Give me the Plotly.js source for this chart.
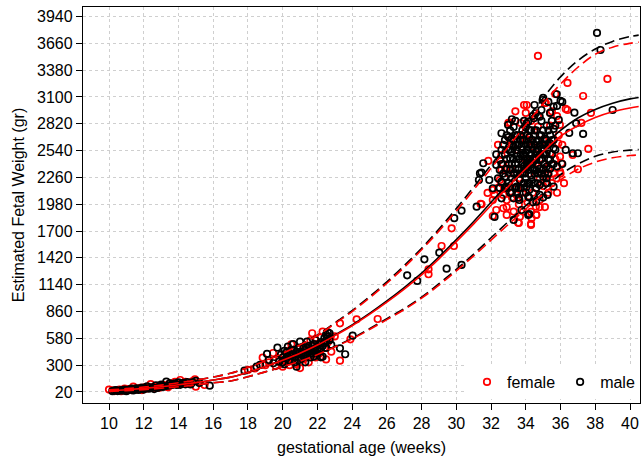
<!DOCTYPE html>
<html>
<head>
<meta charset="utf-8">
<script src="https://cdn.plot.ly/plotly-3.0.1.min.js"></script>
<style>html,body{margin:0;padding:0;background:#fff;}#chart{width:643px;height:459px;}</style>
</head>
<body>
<div id="chart"></div>
<script>
// ---- Data ----
const xTickVals = [10,12,14,16,18,20,22,24,26,28,30,32,34,36,38,40];
const yTickVals = [20,300,580,860,1140,1420,1700,1980,2260,2540,2820,3100,3380,3660,3940];

const curveWeeks = [10,11,12,13,14,15,16,17,18,19,20,21,22,23,24,25,26,27,28,29,30,31,32,33,34,35,36,37,38,39,40,40.5];
const maleMean   = [33,44,58,75,95,118,145,175,225,285,355,430,515,615,720,840,970,1110,1260,1430,1610,1800,2000,2200,2390,2580,2750,2880,2970,3035,3080,3095];
const maleUpper  = [42,55,72,92,116,143,176,215,275,345,425,515,615,740,870,1015,1170,1340,1520,1720,1935,2160,2390,2620,2860,3090,3310,3480,3600,3680,3730,3745];
const maleLower  = [25,34,45,59,75,94,116,135,180,230,285,345,415,495,580,680,785,890,1010,1150,1300,1460,1630,1800,1965,2130,2290,2400,2480,2525,2545,2550];
const femaleMean  = [33,44,58,75,95,118,145,175,225,285,352,425,510,608,712,830,958,1095,1243,1410,1590,1775,1970,2165,2350,2530,2690,2800,2885,2945,2985,3000];
const femaleUpper = [42,55,72,92,116,143,176,215,275,345,423,512,610,733,860,1002,1155,1322,1505,1700,1910,2130,2355,2580,2810,3030,3235,3410,3545,3620,3660,3672];
const femaleLower = [25,34,45,59,75,94,116,135,180,230,283,342,410,490,574,672,775,880,1000,1135,1285,1440,1605,1770,1930,2085,2235,2345,2420,2465,2488,2495];

// female points [week, EFW]
const femaleEarly = [[10.0,45],[10.3,30],[10.5,38],[10.7,28],[10.8,42],[10.9,55],[11.0,35],[11.1,50],[11.3,40],[11.4,75],[11.5,55],[11.6,45],[11.8,62],[11.9,40],[12.0,50],[12.1,70],[12.2,58],[12.4,103],[12.5,72],[12.6,60],[12.8,85],[12.9,65],[13.0,75],[13.1,95],[13.3,80],[13.5,110],[13.6,92],[13.8,125],[14.0,100],[14.1,145],[14.3,118],[14.6,105],[14.8,130],[14.95,153],[15.0,75],[15.2,120],[15.5,93],
 [10.4,33],[10.6,45],[11.2,42],[11.7,52],[12.3,65],[12.7,70],[13.2,90],[13.4,70],[13.7,100],[14.2,110],[14.4,125],[10.2,38],[11.0,45],[12.0,62]];
const femaleMid = [[18.0,250],[18.4,265],[18.85,378],[19.0,300],[19.2,330],[19.45,427],[19.6,290],[19.8,360],[19.9,320],[20.0,284],[20.1,400],[20.2,330],[20.3,450],[20.3,360],[20.4,300],[20.5,518],[20.5,340],[20.6,380],[20.7,420],[20.8,310],[20.9,470],[21.0,270],[21.0,390],[21.1,430],[21.2,360],[21.2,470],[21.3,500],[21.4,400],[21.5,330],[21.5,460],[21.6,560],[21.7,633],[21.7,510],[21.8,450],[21.9,380],[22.0,520],[22.0,400],[22.1,420],[22.2,590],[22.3,650],[22.4,480],[22.5,360],[22.6,540],[22.76,591],[22.8,441],[23.0,600],[23.3,347],[23.3,737],[23.9,570],[24.26,779],[25.47,782],[28.4,1301],[28.4,1249],[29.15,1544],[29.86,1544],[29.73,1729],[31.45,1980],[31.8,2098]];
const femaleLate = [[36.4,3246],[35.15,3037],[34.05,3016],[36.3,2975],[35.4,2933],[33.1,2832],[33.7,2828],[35.96,2808],[34.7,2790],[37.0,2345],[35.97,2477],[36.06,2408],[35.97,2320],[35.77,2251],[35.3,2285],[35.3,2100],[35.0,2170],[34.6,2147],[34.58,1955],[33.85,2042],[33.47,2077],[32.7,2077],[32.2,2077],[32.1,1857],[32.7,1938],[33.3,1903],[33.66,1850],[33.85,1903],[34.33,1833],[33.56,1788],[34.6,1868],[34.3,1763],[32.1,2129],[32.6,2338],[32.6,2494],[33.2,2599],[33.95,2721],[35.87,2616],[32.9,2024],[31.84,2432],[34.14,2651],[34.39,2581],[35.0,2651],[32.5,2233],[33.3,2302],[34.6,2408],[35.4,2512],[32.1,2024],[34.8,2024],[34.9,2198],[37.3,3110],[37.75,2933],[37.2,2829],[37.6,2557],[36.7,2494],[33.9,3016],[34.0,2933],[35.1,3037],[34.7,3528],[38.7,3288],[33.6,1784],[34.3,1774],[34.6,1868],[32.9,1868],[32.3,1920],[31.4,1983],[35.7,3131],[36.4,2964],[33.0,2829],
 [33.0,2300],[33.4,2200],[33.8,2400],[34.2,2300],[34.6,2500],[35.0,2400],[33.2,2050],[33.9,2150],[34.4,2100],[34.9,2300],[35.3,2350],[33.5,2550],[34.0,2650],[34.5,2700],[35.2,2600],[32.8,2350],[32.4,2150],[33.6,1980],[34.8,1950],[35.5,2200],[35.7,2450],[33.1,2650],[32.7,2400],[34.3,2850],[35.4,2800],[36.1,2600],[35.9,2700],[36.2,2200],[34.1,2000],[32.9,1950],
 [33.2,2350],[33.6,2250],[34.0,2450],[34.4,2400],[34.8,2250],[35.2,2200],[35.6,2300],[33.0,2150],[32.6,2200],[34.2,2750],[34.7,2900],[35.8,2900],[35.5,2950],[33.4,2950],[32.4,2600],[33.8,2100],[34.3,1900],[35.1,1950],[35.8,2100],[36.0,2300]];

// male points [week, EFW]
const maleEarly = [[10.2,28],[10.4,40],[10.6,33],[10.9,45],[11.0,28],[11.2,48],[11.3,55],[11.4,36],[11.6,58],[11.7,42],[11.9,65],[12.0,45],[12.2,80],[12.3,55],[12.5,68],[12.6,50],[12.7,90],[12.8,62],[13.0,98],[13.1,72],[13.3,128],[13.4,85],[13.5,110],[13.7,100],[13.9,93],[14.0,120],[14.2,108],[14.5,122],[14.7,98],[15.0,135],[15.2,114],[15.8,86],
 [10.3,35],[10.5,30],[10.7,40],[10.8,35],[11.1,38],[11.5,45],[11.8,50],[12.1,60],[12.4,62],[12.9,75],[13.2,80],[13.6,95],[13.8,110],[14.1,95],[14.3,115],[14.4,100],[14.8,120],[12.0,55],[11.5,52],[13.0,85]];
const maleMid = [[17.8,242],[18.5,284],[18.7,302],[19.1,417],[19.2,354],[19.46,320],[19.7,483],[19.8,336],[19.9,410],[20.0,380],[20.1,310],[20.1,450],[20.2,430],[20.3,493],[20.4,350],[20.5,400],[20.6,460],[20.6,520],[20.7,330],[20.8,284],[20.9,420],[21.0,545],[21.1,370],[21.2,480],[21.3,410],[21.3,330],[21.4,545],[21.5,440],[21.6,380],[21.7,500],[21.8,460],[21.8,390],[21.9,560],[22.0,420],[22.1,520],[22.2,382],[22.2,470],[22.3,389],[22.4,580],[22.5,480],[22.6,643],[22.7,560],[22.8,511],[23.3,476],[23.6,414],[24.03,608],[22.7,633],[27.17,1238],[27.75,1179],[28.16,1405],[29.02,1474],[29.44,1307],[30.3,1346],[29.88,1834],[30.3,1913],[31.17,1955],[31.3,2233],[31.45,2310],
 [20.0,330],[20.2,370],[20.4,420],[20.5,460],[20.7,380],[20.8,440],[20.9,350],[21.0,480],[21.1,420],[21.2,400],[21.3,460],[21.4,480],[21.5,500],[21.6,450],[21.7,420],[21.8,520],[21.9,480],[22.0,470],[22.1,450],[22.2,540],[22.3,500],[22.4,530],[22.5,560],[22.6,600],[22.5,620],[20.3,390],[20.6,410],[21.0,440],[21.4,430],[21.9,430]];
const maleLate = [[35.78,3128],[34.97,3068],[34.58,2930],[36.8,2936],[35.6,3000],[35.9,2860],[34.8,2894],[33.2,2867],[32.6,2721],[34.05,2825],[34.2,2755],[35.6,2766],[36.9,2825],[36.5,2724],[37.0,2512],[36.3,2547],[35.8,2373],[34.8,2077],[34.14,2059],[33.63,2024],[32.6,2042],[32.1,2147],[34.14,1868],[33.3,1816],[32.6,2215],[32.8,2268],[32.5,2338],[31.9,2233],[32.3,2390],[32.5,2442],[33.2,2529],[33.1,2459],[33.2,2668],[33.7,2703],[34.6,2633],[33.75,2581],[34.2,2512],[34.05,2408],[33.56,2338],[34.5,2338],[34.8,2442],[34.33,2233],[33.66,2233],[35.0,2268],[35.2,2512],[34.9,2564],[35.4,2442],[35.1,2668],[35.4,2616],[35.6,2564],[36.7,2512],[33.47,2163],[32.9,2163],[33.3,2042],[31.36,2302],[31.55,2408],[32.6,2547],[32.98,2808],[34.14,2842],[34.47,2877],[34.6,2006],[34.05,2163],[33.75,1920],[35.25,2077],[35.6,2163],[35.2,2198],[33.1,2338],[33.4,2408],[33.95,2477],[33.95,2302],[34.7,2198],[34.2,2129],[34.14,2338],[33.47,2512],[34.6,2529],[35.2,2373],[39.0,2964],[37.3,2714],[36.1,2400],[38.1,3768],[38.3,3590],[36.0,3058],[35.0,3090],[35.8,3006],[34.9,2964],[35.4,2933],[34.5,3016],[35.3,3048],[36.1,3048],[33.3,2787],[34.2,1878],[32.2,1847],
 [33.0,2400],[33.1,2550],[33.2,2250],[33.3,2650],[33.4,2150],[33.5,2480],[33.6,2600],[33.7,2300],[33.8,2750],[33.9,2200],[34.0,2520],[34.1,2380],[34.2,2680],[34.3,2280],[34.4,2450],[34.5,2600],[34.6,2150],[34.7,2380],[34.8,2700],[34.9,2300],[35.0,2500],[35.1,2400],[35.2,2800],[35.3,2300],[35.4,2700],[35.5,2500],[33.2,2100],[33.4,2350],[33.6,2450],[33.8,2550],[34.0,2250],[34.2,2450],[34.4,2650],[34.6,2750],[34.8,2500],[35.0,2350],[33.1,2750],[33.3,2450],[33.5,2300],[33.7,2500],[33.9,2650],[34.1,2200],[34.3,2600],[34.5,2450],[34.7,2550],[34.9,2850],[35.1,2600],[35.3,2450],[32.8,2500],[32.9,2350],[32.7,2600],[32.8,2150],[34.0,2780],[34.2,2050],[33.6,2150],[34.8,2180],[35.5,2650],[35.6,2400],[33.0,2680],[34.4,2900],[33.9,2380],[34.1,2550],[34.3,2420],[34.5,2300],[33.4,2600],[33.8,2420],[32.9,2700],[35.2,2250],[34.6,2330],[33.5,2700],
 [32.5,2150],[32.6,2400],[32.7,2300],[32.8,2650],[32.9,2450],[33.0,2550],[33.0,2200],[33.1,2100],[33.2,2400],[33.3,2300],[33.3,2580],[33.4,2700],[33.5,2100],[33.5,2600],[33.6,2350],[33.7,2650],[33.7,2150],[33.8,2300],[33.8,2650],[33.9,2500],[34.0,2350],[34.0,2600],[34.1,2450],[34.1,2700],[34.2,2200],[34.2,2600],[34.3,2500],[34.3,2750],[34.4,2350],[34.4,2550],[34.5,2200],[34.5,2750],[34.6,2450],[34.7,2650],[34.7,2300],[34.8,2350],[34.8,2600],[34.9,2450],[35.0,2600],[35.0,2750],[35.1,2300],[35.1,2500],[35.2,2650],[35.3,2600],[35.3,2750],[35.4,2350],[35.5,2400],[35.5,2850],[35.6,2650],[35.7,2550],[34.0,2100],[33.6,2050],[34.4,2000],[35.0,2050],[33.9,2850],[33.4,2850],[34.9,2700],[35.7,2800],[32.4,2250],[32.3,2500]];

// ---- Build traces ----
const fPts = femaleEarly.concat(femaleMid, femaleLate);
const mPts = maleEarly.concat(maleMid, maleLate);
const FONT = 'Liberation Sans, Arial, sans-serif';

function pointsTrace(pts, name, color){
  return {type:'scatter', mode:'markers', name:name,
    x: pts.map(p=>p[0]), y: pts.map(p=>p[1]),
    marker:{symbol:'circle-open', size:6.5, color:color, line:{width:1.7, color:color}}};
}
function lineTrace(ys, color, dashed){
  return {type:'scatter', mode:'lines', showlegend:false, x:curveWeeks, y:ys,
    line:{color:color, width:1.6, shape:'spline', dash: dashed ? '10px,5px' : 'solid'}};
}

const traces = [
  pointsTrace(fPts, 'female', '#ff0000'),
  pointsTrace(mPts, 'male', '#000000'),
  lineTrace(maleMean, '#000000', false),
  lineTrace(maleUpper, '#000000', true),
  lineTrace(maleLower, '#000000', true),
  lineTrace(femaleMean, '#ff0000', false),
  lineTrace(femaleUpper, '#ff0000', true),
  lineTrace(femaleLower, '#ff0000', true)
];

const layout = {
  width:643, height:459,
  margin:{l:83, r:3, t:7, b:56},
  paper_bgcolor:'#ffffff', plot_bgcolor:'#ffffff',
  font:{family:FONT, size:16, color:'#000'},
  showlegend:true,
  legend:{orientation:'h', x:1, xanchor:'right', y:0.01, yanchor:'bottom',
          bgcolor:'#ffffff', borderwidth:0, font:{family:FONT, size:16, color:'#000'}},
  xaxis:{range:[8.503, 40.576], tickmode:'array', tickvals:xTickVals, ticktext:xTickVals.map(String),
         showline:true, linecolor:'#000', linewidth:1.2, mirror:true,
         ticks:'outside', ticklen:6, tickwidth:1, tickcolor:'#000',
         showgrid:true, gridcolor:'#cfcfcf', griddash:'dot', gridwidth:1, zeroline:false,
         tickfont:{family:FONT, size:16, color:'#000'},
         title:{text:'gestational age (weeks)', font:{family:FONT, size:16, color:'#000'}, standoff:10}},
  yaxis:{range:[-95, 4039], tickmode:'array', tickvals:yTickVals, ticktext:yTickVals.map(String),
         showline:true, linecolor:'#000', linewidth:1.2, mirror:true,
         ticks:'outside', ticklen:6, tickwidth:1, tickcolor:'#000',
         showgrid:true, gridcolor:'#cfcfcf', griddash:'dot', gridwidth:1, zeroline:false,
         tickfont:{family:FONT, size:16, color:'#000'},
         title:{text:'Estimated Fetal Weight (gr)', font:{family:FONT, size:16, color:'#000'}, standoff:8}}
};

Plotly.newPlot('chart', traces, layout, {staticPlot:true, displayModeBar:false});
</script>
</body>
</html>
